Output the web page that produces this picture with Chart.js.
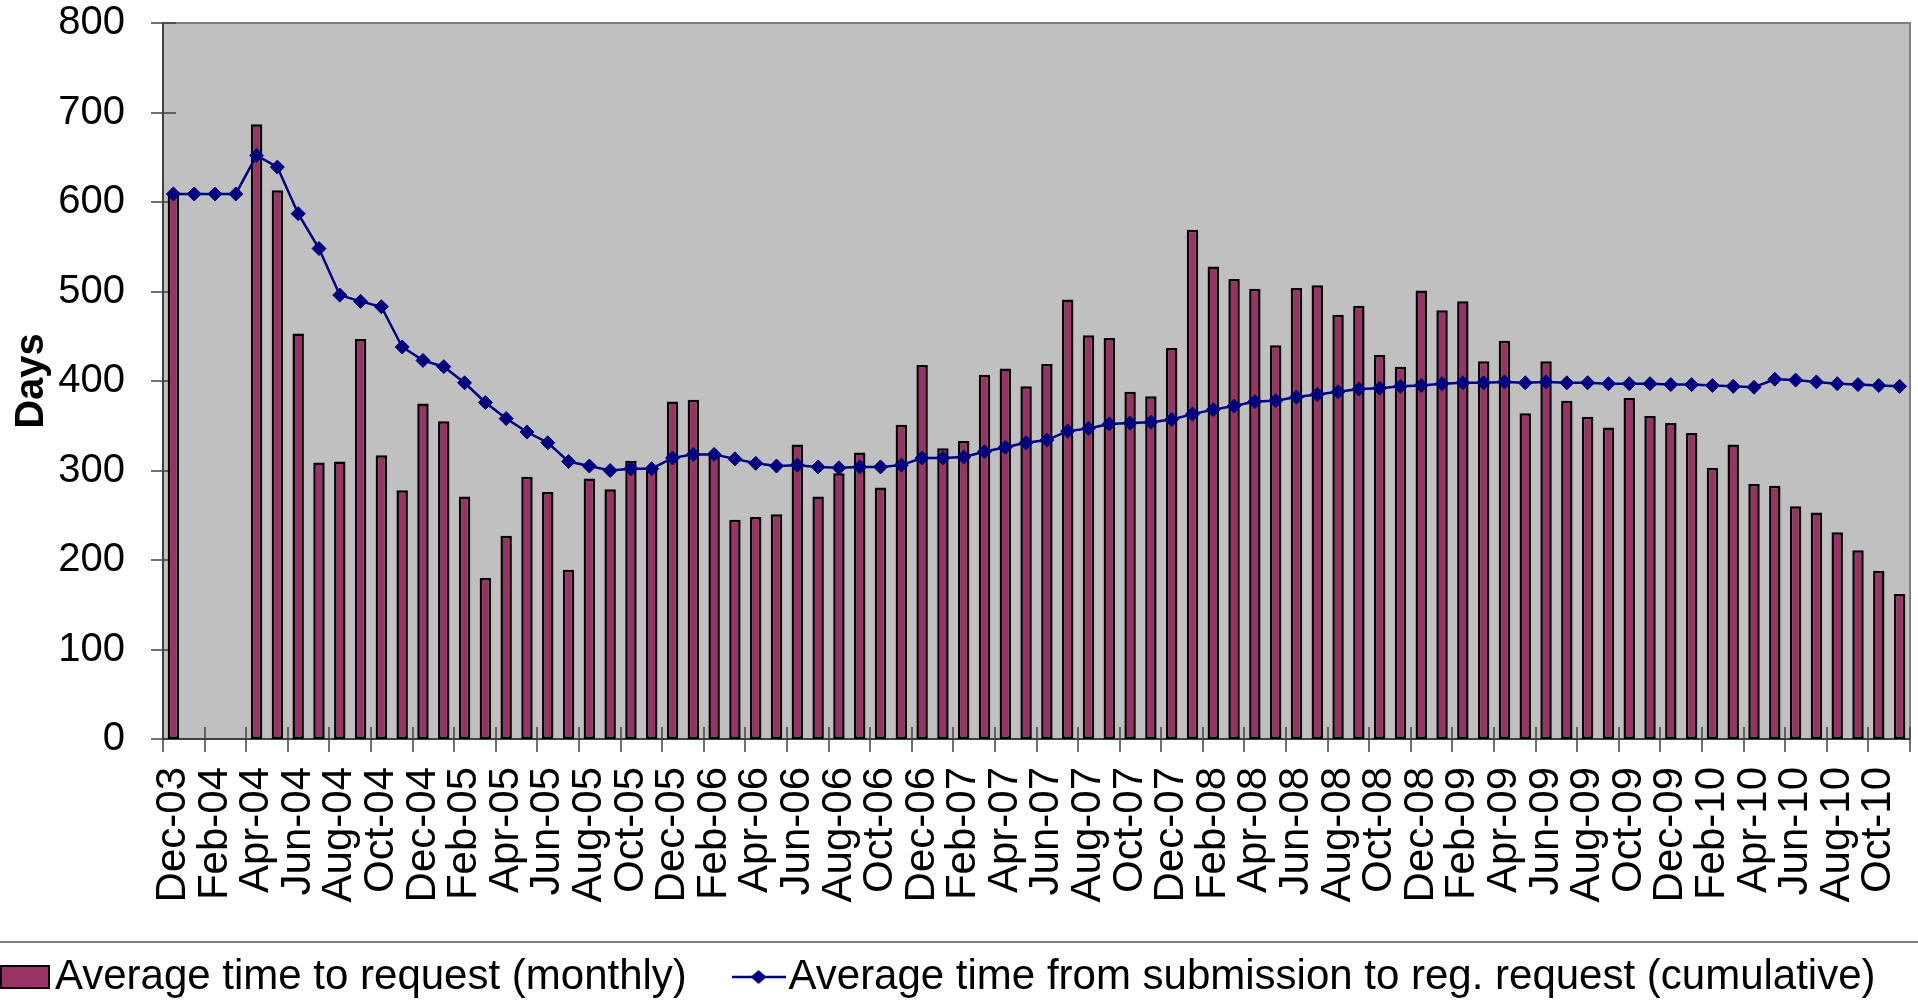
<!DOCTYPE html>
<html>
<head>
<meta charset="utf-8">
<script src="https://cdn.jsdelivr.net/npm/chart.js@4.4.1/dist/chart.umd.min.js"></script>
<style>
  html, body { margin: 0; padding: 0; background: #fff; }
  #wrap { width: 1918px; height: 1005px; position: relative; }
</style>
</head>
<body>
<div id="wrap"><canvas id="grafico"></canvas></div>
<script>
const meses = [
    'Dec-03',
    'Jan-04', 'Feb-04', 'Mar-04', 'Apr-04', 'May-04', 'Jun-04', 'Jul-04', 'Aug-04', 'Sep-04', 'Oct-04', 'Nov-04', 'Dec-04',
    'Jan-05', 'Feb-05', 'Mar-05', 'Apr-05', 'May-05', 'Jun-05', 'Jul-05', 'Aug-05', 'Sep-05', 'Oct-05', 'Nov-05', 'Dec-05',
    'Jan-06', 'Feb-06', 'Mar-06', 'Apr-06', 'May-06', 'Jun-06', 'Jul-06', 'Aug-06', 'Sep-06', 'Oct-06', 'Nov-06', 'Dec-06',
    'Jan-07', 'Feb-07', 'Mar-07', 'Apr-07', 'May-07', 'Jun-07', 'Jul-07', 'Aug-07', 'Sep-07', 'Oct-07', 'Nov-07', 'Dec-07',
    'Jan-08', 'Feb-08', 'Mar-08', 'Apr-08', 'May-08', 'Jun-08', 'Jul-08', 'Aug-08', 'Sep-08', 'Oct-08', 'Nov-08', 'Dec-08',
    'Jan-09', 'Feb-09', 'Mar-09', 'Apr-09', 'May-09', 'Jun-09', 'Jul-09', 'Aug-09', 'Sep-09', 'Oct-09', 'Nov-09', 'Dec-09',
    'Jan-10', 'Feb-10', 'Mar-10', 'Apr-10', 'May-10', 'Jun-10', 'Jul-10', 'Aug-10', 'Sep-10', 'Oct-10', 'Nov-10'
];

// Average time to request (monthly)
const mensual = [
    609,
    null, null, null, 687, 613, 453, 309, 310, 447, 317, 278, 375,
    355, 271, 180, 227, 293, 276, 189, 291, 279, 311, 303, 377,
    379, 319, 245, 248, 251, 329, 271, 297, 320, 281, 351, 418,
    325, 333, 407, 414, 394, 419, 491, 451, 448, 388, 383, 437,
    569, 528, 514, 503, 440, 504, 507, 474, 484, 429, 416, 501,
    479, 489, 422, 445, 364, 422, 378, 360, 348, 381, 361, 353,
    342, 303, 329, 285, 283, 260, 253, 231, 211, 188, 162
];

// Average time from submission to reg. request (cumulative)
const acumulado = [
    609,
    609, 609, 609, 652, 639, 587, 548, 496, 489, 483, 438, 423,
    416, 398, 376, 358, 343, 331, 310, 305, 300, 302, 302, 314,
    318, 318, 313, 308, 305, 306, 304, 303, 304, 304, 306, 314,
    314, 315, 321, 326, 331, 334, 344, 347, 352, 353, 354, 357,
    363, 368, 372, 377, 378, 382, 385, 388, 391, 392, 394, 395,
    397, 398, 398, 399, 398, 399, 398, 398, 397, 397, 397, 396,
    396, 395, 394, 393, 402, 401, 399, 397, 396, 395, 394
];

const nombreBarras = 'Average time to request (monthly)';
const nombreLinea = 'Average time from submission to reg. request (cumulative)';

const colorBarra = '#993366';
const colorLinea = '#000080';
const fuente = '"Liberation Sans", Arial, sans-serif';

// simbolos de la leyenda (estilo Excel)
function simboloBarra() {
    const c = document.createElement('canvas');
    c.width = 50; c.height = 24;
    const g = c.getContext('2d');
    g.fillStyle = colorBarra;
    g.fillRect(1, 1, 48, 22);
    g.strokeStyle = '#000';
    g.lineWidth = 2;
    g.strokeRect(1, 1, 48, 22);
    return c;
}

function simboloLinea() {
    const c = document.createElement('canvas');
    c.width = 54; c.height = 16;
    const g = c.getContext('2d');
    g.strokeStyle = colorLinea;
    g.lineWidth = 2.5;
    g.beginPath(); g.moveTo(0, 8); g.lineTo(54, 8); g.stroke();
    g.fillStyle = colorLinea;
    g.beginPath();
    g.moveTo(27, 1); g.lineTo(35, 8); g.lineTo(27, 15); g.lineTo(19, 8);
    g.closePath(); g.fill();
    return c;
}

// fondo gris, marco y marcas cruzadas de los ejes
const marcoPlot = {
    id: 'marcoPlot',
    beforeDatasetsDraw(chart) {
        const { ctx, chartArea: a, scales: { x, y } } = chart;
        ctx.save();
        ctx.fillStyle = '#C0C0C0';
        ctx.fillRect(a.left, a.top, a.right - a.left, a.bottom - a.top);

        ctx.lineWidth = 2;
        ctx.strokeStyle = '#808080';
        ctx.beginPath();
        ctx.moveTo(a.left, a.top);
        ctx.lineTo(a.right, a.top);
        ctx.lineTo(a.right, a.bottom);
        ctx.stroke();

        ctx.strokeStyle = '#404040';
        ctx.beginPath();
        ctx.moveTo(a.left, a.top);
        ctx.lineTo(a.left, a.bottom);
        ctx.lineTo(a.right, a.bottom);
        ctx.stroke();

        ctx.lineWidth = 1.5;
        y.ticks.forEach(t => {
            const py = Math.round(y.getPixelForValue(t.value));
            ctx.beginPath();
            ctx.moveTo(a.left - 12, py);
            ctx.lineTo(a.left + 13, py);
            ctx.stroke();
        });

        const paso = x.getPixelForValue(1) - x.getPixelForValue(0);
        for (let i = 0; i <= meses.length; i += 2) {
            const px = Math.round(x.getPixelForValue(i) - paso / 2);
            ctx.beginPath();
            ctx.moveTo(px, a.bottom - 12);
            ctx.lineTo(px, a.bottom + 13);
            ctx.stroke();
        }
        ctx.restore();
    },
    afterDraw(chart) {
        const { ctx, legend } = chart;
        ctx.save();
        ctx.strokeStyle = '#808080';
        ctx.lineWidth = 2;
        ctx.beginPath();
        ctx.moveTo(0, legend.top + 2);
        ctx.lineTo(chart.width, legend.top + 2);
        ctx.stroke();
        ctx.restore();
    }
};

const espacio = '\u00a0\u00a0\u00a0\u00a0';

const ctx = document.getElementById('grafico').getContext('2d');
const grafico = new Chart(ctx, {
    data: {
        labels: meses,
        datasets: [
            {
                type: 'bar',
                label: nombreBarras,
                data: mensual,
                backgroundColor: colorBarra,
                borderColor: '#000',
                borderWidth: 2.5,
                borderSkipped: false,
                barPercentage: 0.55,
                categoryPercentage: 1.0,
                order: 2
            },
            {
                type: 'line',
                label: nombreLinea,
                data: acumulado,
                borderColor: colorLinea,
                backgroundColor: colorLinea,
                borderWidth: 2.5,
                pointStyle: 'rectRot',
                pointRadius: 7,
                pointBorderWidth: 1,
                pointBackgroundColor: colorLinea,
                pointBorderColor: colorLinea,
                tension: 0,
                order: 1
            }
        ]
    },
    options: {
        responsive: true,
        maintainAspectRatio: false,
        animation: false,
        layout: { padding: { left: 0, right: 3, top: 23, bottom: -3 } },
        plugins: {
            tooltip: { enabled: false },
            legend: {
                position: 'bottom',
                align: 'start',
                labels: {
                    usePointStyle: true,
                    pointStyleWidth: 18,
                    padding: 16,
                    color: '#000',
                    font: { family: fuente, size: 42 },
                    generateLabels: () => [
                        { text: nombreBarras + espacio, pointStyle: simboloBarra(), fillStyle: colorBarra, strokeStyle: '#000', lineWidth: 0, datasetIndex: 0, fontColor: '#000' },
                        { text: nombreLinea, pointStyle: simboloLinea(), fillStyle: colorLinea, strokeStyle: colorLinea, lineWidth: 0, datasetIndex: 1, fontColor: '#000' }
                    ]
                }
            }
        },
        scales: {
            x: {
                offset: true,
                grid: { display: false, drawTicks: false },
                border: { display: false },
                ticks: {
                    autoSkip: false,
                    minRotation: 90,
                    maxRotation: 90,
                    padding: 28,
                    color: '#000',
                    font: { family: fuente, size: 42 },
                    callback: (v, i) => (i % 2 === 0 ? meses[i] : '')
                },
                afterFit: (s) => {
                    s.height = 201;
                    s.paddingLeft = 0;
                    s.paddingRight = 0;
                }
            },
            y: {
                min: 0,
                max: 800,
                grid: { display: false, drawTicks: false },
                border: { display: false },
                ticks: {
                    stepSize: 100,
                    padding: 38,
                    color: '#000',
                    font: { family: fuente, size: 40 }
                },
                title: {
                    display: true,
                    text: 'Days',
                    color: '#000',
                    padding: { top: 8, bottom: 0 },
                    font: { family: fuente, size: 40, weight: 'bold' }
                },
                afterFit: (s) => {
                    s.width = 163;
                    s.paddingTop = 0;
                    s.paddingBottom = 0;
                }
            }
        }
    },
    plugins: [marcoPlot]
});
</script>
</body>
</html>
